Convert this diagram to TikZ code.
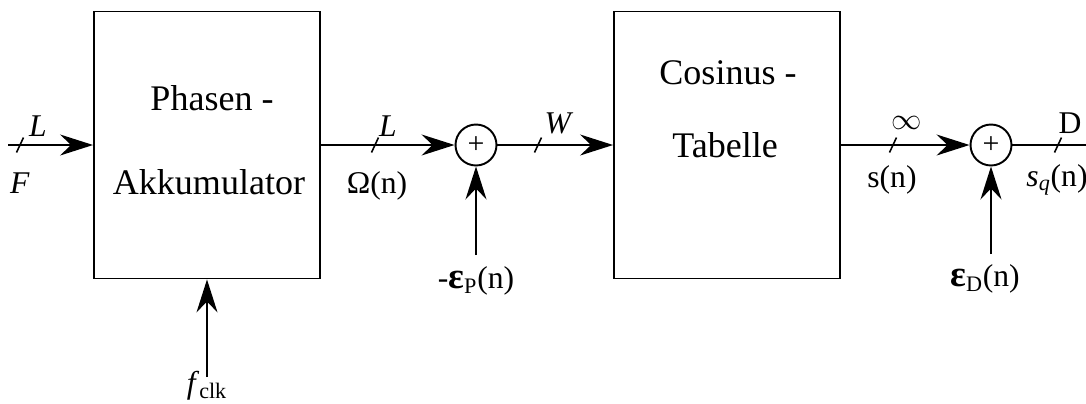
\documentclass[tikz,border=0pt]{standalone}
\usepackage{fontspec}
\setmainfont{Liberation Serif}
\usepackage{tikz}
\usetikzlibrary{arrows.meta}
\tikzset{
  blk/.style={draw,line width=1.1pt,minimum width=4.52cm,minimum height=5.34cm,inner sep=0pt},
  sum/.style={draw,circle,line width=1.1pt,minimum size=0.82cm,inner sep=0pt,font=\fontsize{17}{17}\selectfont},
  sig/.style={line width=1.1pt,-{Stealth[length=6.6mm,width=4.2mm,inset=2.2mm]}},
  ln/.style={line width=1.1pt},
  ins/.style={line width=0.9pt},
  txt/.style={inner sep=0pt,font=\fontsize{20.5}{24}\selectfont},
  lab/.style={inner sep=0pt,font=\fontsize{18}{20}\selectfont}
}
\newcommand{\busmark}[2]{\draw[ins] (#1-3.5,#2+7.5) -- (#1+3.5,#2-7.5);}
\newcommand{\eps}{{\fontsize{21}{20}\selectfont\textbf{ε}}}

\begin{document}
\begin{tikzpicture}[x=0.02cm,y=-0.02cm]
\useasboundingbox (0,0) rectangle (1086,403);
% blocks
\node[blk] (phasen) at (207,145) {};
\node[txt] (phasentxt) at (212,98) {Phasen -};
\node[txt] (akkutxt) at (209,182) {Akkumulator};
\node[blk] (cosinus) at (727,145) {};
\node[txt] (cosinustxt) at (728,73) {Cosinus -};
\node[txt] (tabelletxt) at (725,145) {Tabelle};
\node[sum] (sum1) at (476,145) {+};
\node[sum] (sum2) at (991,145) {+};
% free ends
\coordinate (in) at (8,145);
\coordinate (clk) at (207,377);
\coordinate (ep) at (476,255);
\coordinate (ed) at (991,254);
\coordinate (out) at (1086,145);
% connectors
\draw[sig] (in) -- (phasen.west); \busmark{20}{145}
\draw[sig] (clk) -- (phasen.south);
\draw[sig] (phasen.east) -- (sum1.west); \busmark{375}{145}
\draw[sig] (ep) -- (sum1.south);
\draw[sig] (sum1.east) -- (cosinus.west); \busmark{538}{145}
\draw[sig] (cosinus.east) -- (sum2.west); \busmark{893}{145}
\draw[sig] (ed) -- (sum2.south);
\draw[ln] (sum2.east) -- (out); \busmark{1058}{145}
% labels
\node[lab] (lin) at (38,126) {\textit{L}};
\node[lab] (lf) at (20,183) {\textit{F}};
\node[lab] (lphi) at (388,126) {\textit{L}};
\node[lab] (lomega) at (377,186) {Ω(n)};
\node[lab] (lep) at (476,281) {-\eps\textsubscript{P}(n)};
\node[lab] (lw) at (559,123) {\textit{W}};
\node[lab] (linf) at (907,123) {$\infty$};
\node[lab] (ls) at (892,180) {s(n)};
\node[lab] (led) at (985,279) {\eps\textsubscript{D}(n)};
\node[lab] (ld) at (1070,123) {D};
\node[lab] (lsq) at (1057,180) {\textit{s}\textsubscript{\textit{q}}(n)};
\node[lab] (lclk) at (207,386) {\textit{f}\textsubscript{clk}};
\end{tikzpicture}
\end{document}
